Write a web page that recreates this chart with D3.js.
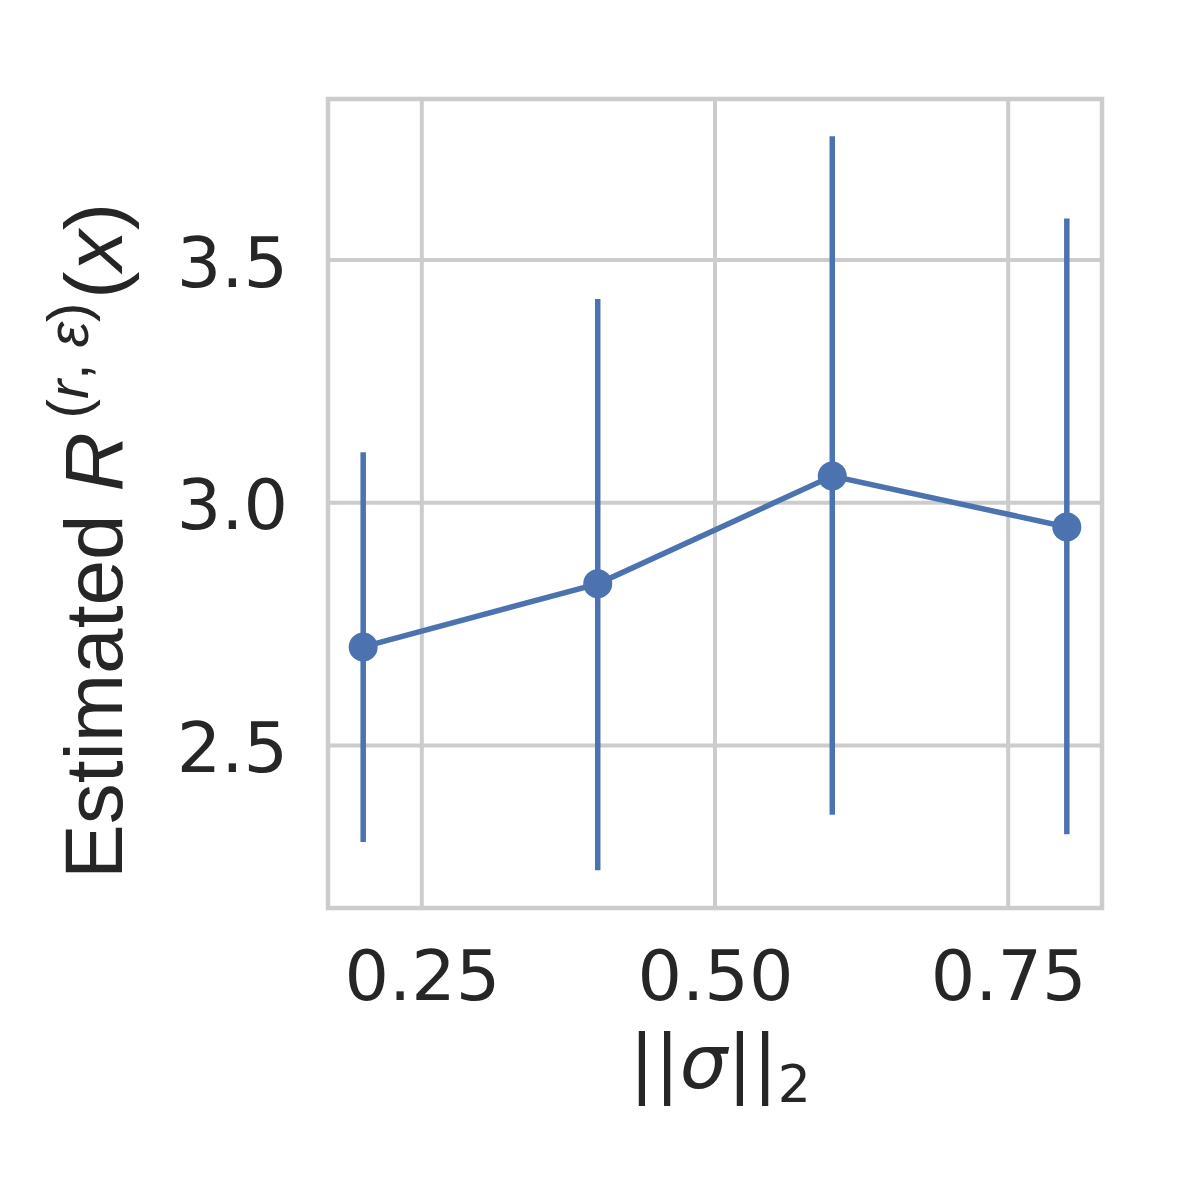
<!DOCTYPE html>
<html><head><meta charset="utf-8">
<script src="https://cdn.jsdelivr.net/npm/d3@7"></script>
<style>html,body{margin:0;padding:0;background:#fff;}</style>
</head><body>
<script>
const sigma = [0.2, 0.4, 0.6, 0.8];
const means = [2.703, 2.833, 3.055, 2.950];
const lower = [2.301, 2.243, 2.357, 2.317];
const upper = [3.104, 3.420, 3.755, 3.586];
const xTicks = [0.25, 0.50, 0.75];
const yTicks = [2.5, 3.0, 3.5];
const xTickLabels = ["0.25", "0.50", "0.75"];
const yTickLabels = ["2.5", "3.0", "3.5"];

const W = 1200, H = 1200;
const L = 328, R = 1102, T = 99, B = 908;
const blue = "#4c72b0", grid = "#cccccc", txt = "#262626";

const svg = d3.select("body").append("svg").attr("width", W).attr("height", H);
const x = d3.scaleLinear().domain([0.17, 0.83]).range([L, R]);
const y = d3.scaleLinear().domain([2.165, 3.832]).range([B, T]);

// grid
svg.append("g").selectAll("line").data(xTicks).join("line")
  .attr("x1", d => x(d)).attr("x2", d => x(d)).attr("y1", T).attr("y2", B)
  .attr("stroke", grid).attr("stroke-width", 4);
svg.append("g").selectAll("line").data(yTicks).join("line")
  .attr("y1", d => y(d)).attr("y2", d => y(d)).attr("x1", L).attr("x2", R)
  .attr("stroke", grid).attr("stroke-width", 4);

// axes via d3 axis (labels only)
const xAxis = svg.append("g").attr("transform", `translate(0,${B})`)
  .call(d3.axisBottom(x).tickValues(xTicks).tickFormat((d, i) => xTickLabels[i]).tickSize(0).tickPadding(0));
xAxis.select(".domain").remove();
xAxis.selectAll("text").attr("font-family", "DejaVu Sans").attr("font-size", 70)
  .attr("fill", txt).attr("dy", null).attr("y", 92);

const yAxis = svg.append("g").attr("transform", `translate(${L},0)`)
  .call(d3.axisLeft(y).tickValues(yTicks).tickFormat((d, i) => yTickLabels[i]).tickSize(0).tickPadding(0));
yAxis.select(".domain").remove();
yAxis.selectAll("text").attr("font-family", "DejaVu Sans").attr("font-size", 70)
  .attr("fill", txt).attr("dy", "0.37em").attr("x", -40);

// frame
svg.append("rect").attr("x", L).attr("y", T).attr("width", R - L).attr("height", B - T)
  .attr("fill", "none").attr("stroke", grid).attr("stroke-width", 4.5);

// error bars
svg.append("g").selectAll("line").data(sigma).join("line")
  .attr("x1", d => x(d)).attr("x2", d => x(d))
  .attr("y1", (d, i) => y(lower[i])).attr("y2", (d, i) => y(upper[i]))
  .attr("stroke", blue).attr("stroke-width", 5.5);

// line
const pts = sigma.map((s, i) => [s, means[i]]);
svg.append("path").datum(pts)
  .attr("d", d3.line().x(d => x(d[0])).y(d => y(d[1])))
  .attr("fill", "none").attr("stroke", blue).attr("stroke-width", 5.5);

// markers
svg.append("g").selectAll("circle").data(pts).join("circle")
  .attr("cx", d => x(d[0])).attr("cy", d => y(d[1])).attr("r", 14.5).attr("fill", blue);

// x label
const xl = svg.append("text").attr("x", 720).attr("y", 1088).attr("text-anchor", "middle")
  .attr("font-family", "DejaVu Sans").attr("font-size", 75).attr("fill", txt);
xl.append("tspan").text("||");
xl.append("tspan").attr("font-style", "italic").text("σ");
xl.append("tspan").text("||");
xl.append("tspan").attr("font-size", 52).attr("dy", 14).text("2");

// y label
const yl = svg.append("text").attr("transform", "translate(122,541) rotate(-90)")
  .attr("text-anchor", "middle").attr("font-family", "Liberation Sans").attr("font-size", 82).attr("fill", txt);
yl.append("tspan").text("Estimated ");
yl.append("tspan").attr("font-style", "italic").text("R");
const sup = yl.append("tspan").attr("font-size", 58).attr("dy", -34).attr("dx", 14);
sup.append("tspan").text("(");
sup.append("tspan").attr("font-style", "italic").text("r");
sup.append("tspan").text(", ");
sup.append("tspan").attr("font-style", "italic").text("ε");
sup.append("tspan").text(")");
const rest = yl.append("tspan").attr("dy", 34).attr("dx", 4);
rest.text("(");
yl.append("tspan").attr("font-style", "italic").text("x");
yl.append("tspan").text(")");
</script>
</body></html>
